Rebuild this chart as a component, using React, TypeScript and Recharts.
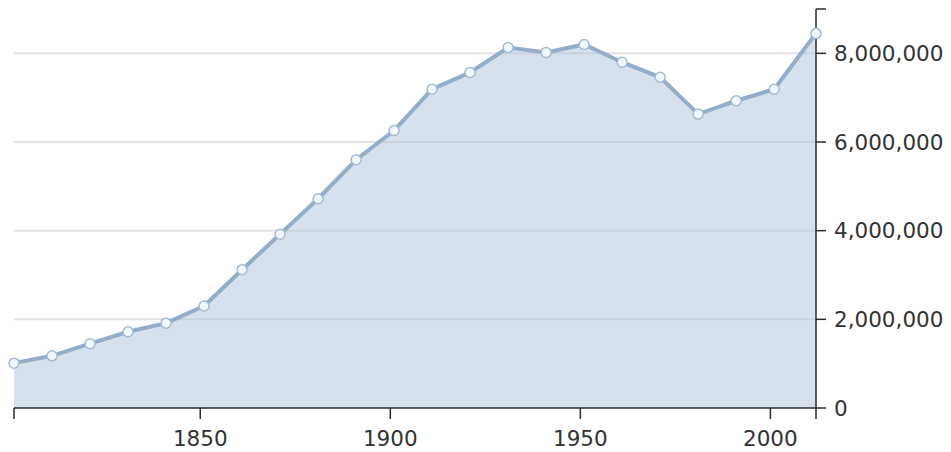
import { Area, AreaChart, CartesianGrid, XAxis, YAxis } from "recharts";

// census years and population
const YEARS = [
  1801, 1811, 1821, 1831, 1841, 1851, 1861, 1871, 1881, 1891, 1901, 1911,
  1921, 1931, 1941, 1951, 1961, 1971, 1981, 1991, 2001, 2012,
];
const POPULATION = [
  1012000, 1177000, 1450000, 1720000, 1914000, 2300000, 3120000, 3920000,
  4720000, 5600000, 6260000, 7190000, 7570000, 8130000, 8020000, 8200000,
  7800000, 7460000, 6630000, 6930000, 7190000, 8450000,
];
const X_TICKS = [1801, 1850, 1900, 1950, 2000, 2012];
const Y_TICKS = [0, 2000000, 4000000, 6000000, 8000000, 9000000];
const GRID_VALUES = [2000000, 4000000, 6000000, 8000000];

const data = YEARS.map((year, i) => ({ year, population: POPULATION[i] }));

const FONT = "'DejaVu Sans', sans-serif";
const AXIS = "#2b2b2b";

export default function App() {
  return (
    <div style={{ position: "absolute", left: 0, top: 0, width: 951, height: 452, background: "#fff" }}>
      <AreaChart
        width={951}
        height={452}
        data={data}
        margin={{ top: 9, right: 0, bottom: 0, left: 14 }}
      >
        <CartesianGrid
          vertical={false}
          horizontalValues={GRID_VALUES}
          stroke="#e3e3e3"
          strokeWidth={2}
        />
        <XAxis
          dataKey="year"
          type="number"
          domain={[1801, 2012]}
          ticks={X_TICKS}
          tickFormatter={(v: number) => (v % 50 === 0 ? String(v) : "")}
          height={44}
          tickSize={11}
          tickMargin={12}
          stroke={AXIS}
          strokeWidth={1.5}
          tick={{ fill: "#333", fontSize: 21.5, fontFamily: FONT }}
        />
        <YAxis
          orientation="right"
          type="number"
          domain={[0, 9000000]}
          ticks={Y_TICKS}
          tickFormatter={(v: number) => (v === 9000000 ? "" : v.toLocaleString("en-US"))}
          width={135}
          tickSize={10}
          tickMargin={8}
          stroke={AXIS}
          strokeWidth={1.5}
          tick={{ fill: "#333", fontSize: 21.5, fontFamily: FONT, textAnchor: "start" }}
        />
        <Area
          type="linear"
          dataKey="population"
          stroke="#93adca"
          strokeWidth={4}
          fill="#b0c4de"
          fillOpacity={0.5}
          dot={{ r: 5, fill: "#f0f7fd", stroke: "#a6bbd3", strokeWidth: 1.5, fillOpacity: 1 }}
          activeDot={false}
          isAnimationActive={false}
        />
      </AreaChart>
    </div>
  );
}
